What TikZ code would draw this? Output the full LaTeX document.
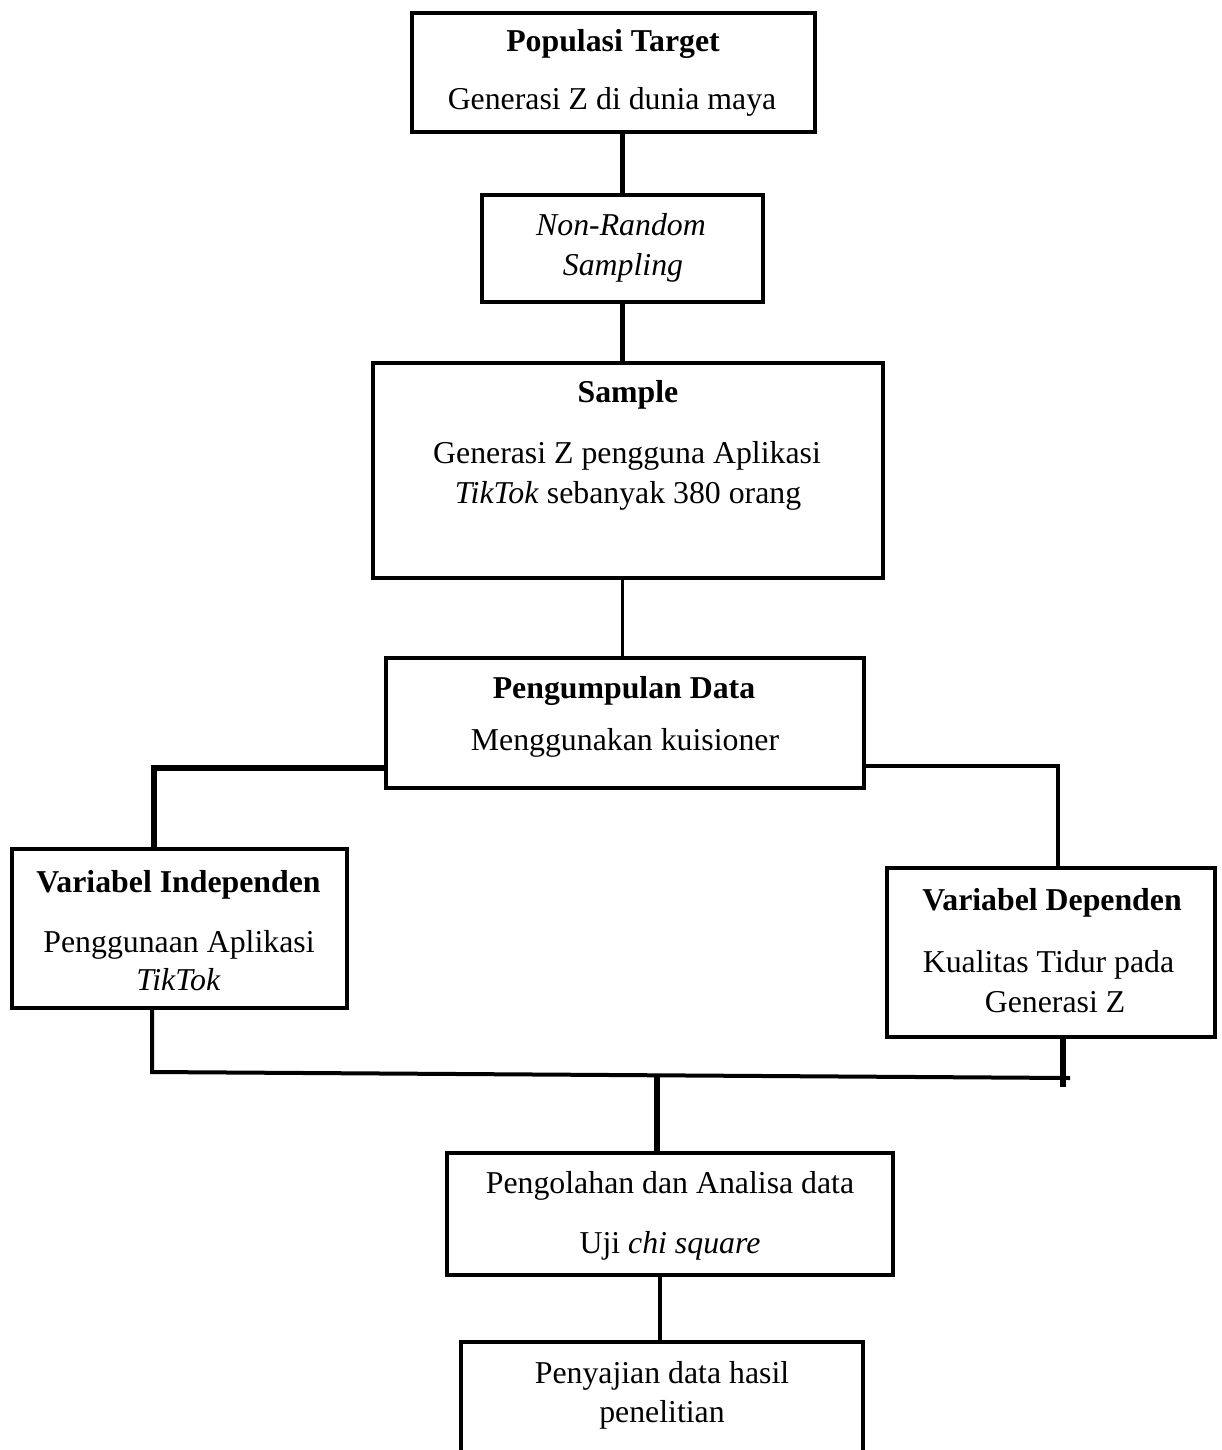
\documentclass[tikz,border=0pt]{standalone}
\usepackage{fontspec}
\setmainfont{Liberation Serif}
\begin{document}
\begin{tikzpicture}[x=0.5pt,y=-0.5pt,
  box/.style={draw=black,line width=2pt,rectangle,inner sep=0pt,outer sep=0pt,fill=none},
  txt/.style={anchor=base,inner sep=0pt,outer sep=0pt,font=\fontsize{15.9}{19.8}\selectfont},
  ttl/.style={txt,font=\fontsize{15.9}{19.8}\selectfont\bfseries},
  conA/.style={line width=2.8pt,draw=black},
  conB/.style={line width=2pt,draw=black},
  conC/.style={line width=1.6pt,draw=black}]
\useasboundingbox (0,0) rectangle (1221,1450);
\fill[white] (0,0) rectangle (1221,1450);

% boxes
\node[box,minimum width=201.5pt,minimum height=59.5pt] (b1) at (613.5,72.5) {};
\node[box,minimum width=140.5pt,minimum height=53.5pt] (b2) at (622.5,248.5) {};
\node[box,minimum width=255pt,minimum height=107.5pt] (b3) at (628,470.5) {};
\node[box,minimum width=239pt,minimum height=65pt] (b4) at (625,723) {};
\node[box,minimum width=167.5pt,minimum height=79.5pt] (b5) at (179.5,928.5) {};
\node[box,minimum width=164pt,minimum height=84.5pt] (b6) at (1051,952.5) {};
\node[box,minimum width=223pt,minimum height=61pt] (b7) at (670,1214) {};
\node[box,minimum width=201pt,minimum height=79pt] (b8) at (662,1421) {};

% texts
\node[ttl] (t1a) at (613,52) {Populasi Target};
\node[txt] (t1b) at (612,110) {Generasi Z di dunia maya};
\node[txt] (t2a) at (621,235) {\textit{Non-Random}};
\node[txt] (t2b) at (623,275) {\textit{Sampling}};
\node[ttl] (t3a) at (628,402) {Sample};
\node[txt] (t3b) at (627,463) {Generasi Z pengguna Aplikasi};
\node[txt] (t3c) at (628,503) {\textit{TikTok} sebanyak 380 orang};
\node[ttl] (t4a) at (624,698) {Pengumpulan Data};
\node[txt] (t4b) at (625,750) {Menggunakan kuisioner};
\node[ttl] (t5a) at (178.5,892) {Variabel Independen};
\node[txt] (t5b) at (179,952) {Penggunaan Aplikasi};
\node[txt] (t5c) at (178.5,990) {\textit{TikTok}};
\node[ttl] (t6a) at (1052,910) {Variabel Dependen};
\node[txt] (t6b) at (1048.5,972) {Kualitas Tidur pada};
\node[txt] (t6c) at (1055,1012) {Generasi Z};
\node[txt] (t7a) at (670,1193) {Pengolahan dan Analisa data};
\node[txt] (t7b) at (670,1253) {Uji \textit{chi square}};
\node[txt] (t8a) at (662,1383) {Penyajian data hasil};
\node[txt] (t8b) at (662,1422) {penelitian};

% junction coordinates
\coordinate (lb) at (154,768);
\coordinate (rb) at (1058,766);
\coordinate (jl) at (152,1072);
\coordinate (jr) at (1070,1078);
\coordinate (jd) at (1063,1087);
\coordinate (jc) at (657,1075);

% connectors
\draw[conA] (b2.north |- b1.south) -- (b2.north);
\draw[conA] (b2.south) -- (b2.south |- b3.north);
\draw[conC] (b2.south |- b3.south) -- (b2.south |- b4.north);
\draw[conA] (b4.west |- lb) -- (lb) -- (lb |- b5.north);
\draw[conB] (b4.east |- rb) -- (rb) -- (rb |- b6.north);
\draw[conB] (jl |- b5.south) -- (jl) -- (jr);
\draw[conA] (jd |- b6.south) -- (jd);
\draw[conA] (jc) -- (jc |- b7.north);
\draw[conB] ([xshift=-1pt]b8.north |- b7.south) -- ([xshift=-1pt]b8.north);
\end{tikzpicture}
\end{document}
